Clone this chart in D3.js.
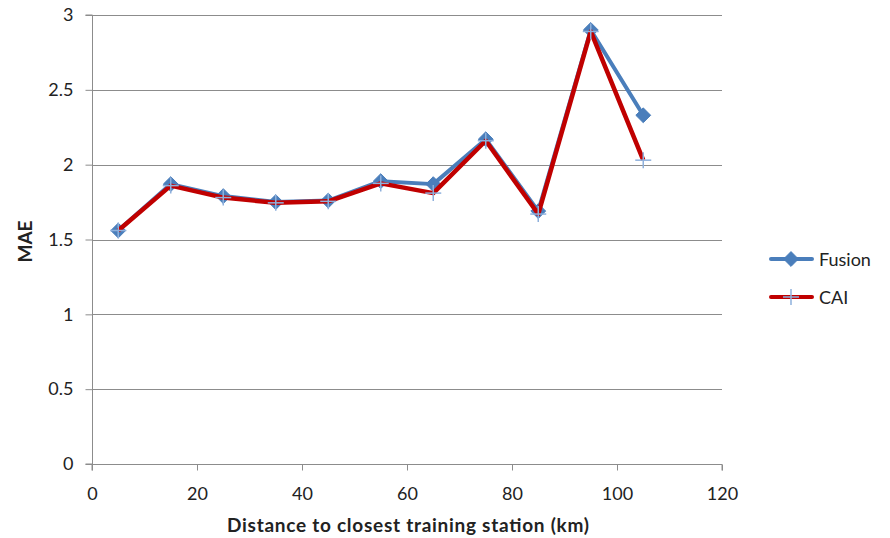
<!DOCTYPE html>
<html>
<head>
<meta charset="utf-8">
<script src="https://cdn.jsdelivr.net/npm/d3@7"></script>
<style>
  html, body { margin: 0; padding: 0; background: #fff; }
  svg text { font-family: Lato, "Open Sans", sans-serif; fill: #222; }
</style>
</head>
<body>
<svg id="chart" width="890" height="538"></svg>
<script>
// Distance bins (km) and MAE per method
const distances = [5, 15, 25, 35, 45, 55, 65, 75, 85, 95, 105];
const fusion = [1.56, 1.87, 1.79, 1.75, 1.76, 1.89, 1.87, 2.17, 1.69, 2.90, 2.33];
const cai    = [1.56, 1.86, 1.78, 1.745, 1.755, 1.875, 1.81, 2.16, 1.67, 2.89, 2.03];
const xTicks = [0, 20, 40, 60, 80, 100, 120];
const yTicks = [0, 0.5, 1, 1.5, 2, 2.5, 3];
const seriesNames = ["Fusion", "CAI"];

const svg = d3.select("#chart");
const plotLeft = 92, plotRight = 722, plotTop = 15, plotBottom = 464;

const x = d3.scaleLinear().domain([0, 120]).range([plotLeft, plotRight]);
const y = d3.scaleLinear().domain([0, 3]).range([plotBottom, plotTop]);

const gridColor = "#8c8c8c";
const tickFont = 18, titleFont = 19;

// horizontal gridlines
svg.append("g").selectAll("line").data(yTicks.filter(d => d > 0)).join("line")
  .attr("x1", plotLeft).attr("x2", plotRight)
  .attr("y1", d => Math.round(y(d)) + 0.5).attr("y2", d => Math.round(y(d)) + 0.5)
  .attr("stroke", gridColor).attr("stroke-width", 1);

// y axis
const yAxis = svg.append("g").attr("transform", `translate(${plotLeft + 0.5},0)`)
  .call(d3.axisLeft(y).tickValues(yTicks).tickSize(7).tickPadding(12)
    .tickFormat(d => String(d)));
yAxis.select(".domain").attr("stroke", gridColor).attr("d", `M-7,${plotTop}H0V${plotBottom}H-7`);
yAxis.selectAll(".tick line").attr("stroke", gridColor);
yAxis.selectAll(".tick text").attr("font-size", tickFont).style("fill", "#222");

// x axis
const xAxis = svg.append("g").attr("transform", `translate(0,${plotBottom + 0.5})`)
  .call(d3.axisBottom(x).tickValues(xTicks).tickSize(6).tickPadding(10)
    .tickFormat(d3.format("d")));
xAxis.select(".domain").attr("stroke", gridColor).attr("d", `M${plotLeft},6V0H${plotRight}V6`);
xAxis.selectAll(".tick line").attr("stroke", gridColor);
xAxis.selectAll(".tick text").attr("font-size", tickFont).attr("dy", null)
  .attr("y", 35).style("fill", "#222");

// axis titles
svg.append("text").attr("x", (plotLeft + plotRight) / 2 + 1).attr("y", 532)
  .attr("text-anchor", "middle").attr("font-size", titleFont).attr("font-weight", "bold")
  .attr("textLength", 362).attr("lengthAdjust", "spacing")
  .text("Distance to closest training station  (km)");
svg.append("text").attr("transform", `translate(32,${(plotTop + plotBottom) / 2 + 2}) rotate(-90)`)
  .attr("text-anchor", "middle").attr("font-size", titleFont).attr("font-weight", "bold")
  .text("MAE");

const line = d3.line().x(d => x(d[0])).y(d => y(d[1]));
const fusionPts = distances.map((d, i) => [d, fusion[i]]);
const caiPts = distances.map((d, i) => [d, cai[i]]);

const blue = "#4a7ebb", red = "#c00000", plusColor = "#8eb0dc";
const diamond = d3.symbol().type(d3.symbolDiamond2).size(140);

// Fusion series
svg.append("path").datum(fusionPts).attr("d", line)
  .attr("fill", "none").attr("stroke", blue).attr("stroke-width", 4)
  .attr("stroke-linejoin", "round");
svg.append("g").selectAll("path").data(fusionPts).join("path")
  .attr("d", diamond)
  .attr("transform", d => `translate(${x(d[0])},${y(d[1])})`)
  .attr("fill", blue).attr("stroke", blue).attr("stroke-width", 1);

// CAI series
svg.append("path").datum(caiPts).attr("d", line)
  .attr("fill", "none").attr("stroke", red).attr("stroke-width", 4.5)
  .attr("stroke-linejoin", "round");
const plus = svg.append("g").selectAll("g").data(caiPts).join("g")
  .attr("transform", d => `translate(${x(d[0])},${y(d[1])})`);
plus.append("line").attr("x1", -8).attr("x2", 8).attr("y1", 0).attr("y2", 0)
  .attr("stroke", plusColor).attr("stroke-width", 1.5);
plus.append("line").attr("x1", 0).attr("x2", 0).attr("y1", -8).attr("y2", 8)
  .attr("stroke", plusColor).attr("stroke-width", 1.5);

// legend
const legend = svg.append("g");
const rows = [
  { name: seriesNames[0], color: blue, y: 259 },
  { name: seriesNames[1], color: red, y: 297 }
];
rows.forEach((r, i) => {
  legend.append("line").attr("x1", 771).attr("x2", 812).attr("y1", r.y).attr("y2", r.y)
    .attr("stroke", r.color).attr("stroke-width", 4).attr("stroke-linecap", "round");
  if (i === 0) {
    legend.append("path").attr("d", diamond).attr("transform", `translate(791,${r.y})`)
      .attr("fill", blue).attr("stroke", blue);
  } else {
    legend.append("line").attr("x1", 783).attr("x2", 799).attr("y1", r.y).attr("y2", r.y)
      .attr("stroke", plusColor).attr("stroke-width", 1.5);
    legend.append("line").attr("x1", 791).attr("x2", 791).attr("y1", r.y - 8).attr("y2", r.y + 8)
      .attr("stroke", plusColor).attr("stroke-width", 1.5);
  }
  legend.append("text").attr("x", 819).attr("y", r.y + 7).attr("font-size", tickFont).text(r.name);
});
</script>
</body>
</html>
